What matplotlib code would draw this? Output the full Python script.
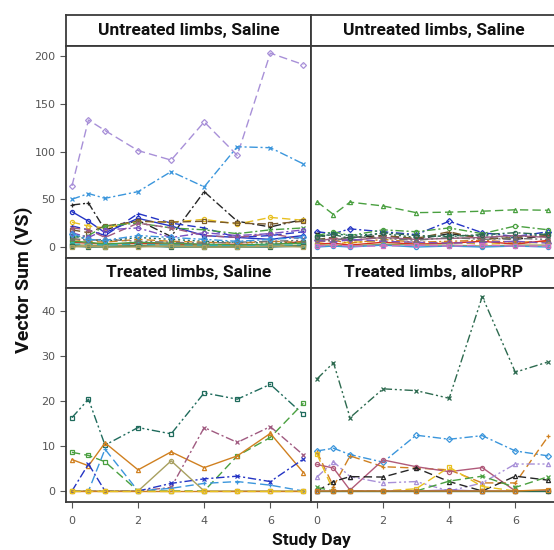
import matplotlib
matplotlib.use("Agg")
import matplotlib.pyplot as plt

# ---------------- data ----------------
days = [0, 0.5, 1, 2, 3, 4, 5, 6, 7]
x_ticks = [0, 2, 4, 6]
y_ticks_top = [0, 50, 100, 150, 200]
y_ticks_bottom = [0, 10, 20, 30, 40]
panel_titles = ["Untreated limbs, Saline", "Untreated limbs, Saline",
                "Treated limbs, Saline", "Treated limbs, alloPRP"]
x_label = "Study Day"
y_label = "Vector Sum (VS)"

# Untreated limbs, Saline (left)
ul_s01 = [64, 133, 122, 101, 91, 131, 96, 203, 191]
ul_s02 = [50, 56, 51, 58, 79, 63, 105, 104, 87]
ul_s03 = [44, 46, 18, 28, 11, 58, 27, 21, 29]
ul_s04 = [37, 27, 15, 30, 22, 12, 10, 8, 12]
ul_s05 = [22, 18, 12, 35, 25, 20, 10, 12, 16]
ul_s06 = [26, 22, 20, 27, 26, 29, 24, 31, 28]
ul_s07 = [18, 15, 22, 27, 26, 27, 25, 24, 27]
ul_s08 = [10, 12, 22, 25, 20, 18, 14, 18, 20]
ul_s09 = [20, 18, 10, 25, 20, 12, 10, 14, 8]
ul_s10 = [5, 4, 3, 4, 3, 2, 3, 2, 6]
ul_s11 = [2, 2, 1, 2, 2, 1, 1, 1, 2]
ul_s12 = [12, 8, 6, 10, 8, 6, 5, 4, 5]
ul_s13 = [8, 6, 5, 8, 6, 5, 4, 6, 5]
ul_s14 = [15, 10, 18, 20, 10, 15, 12, 14, 18]
ul_s15 = [6, 5, 3, 5, 4, 3, 2, 3, 4]
ul_s16 = [3, 3, 2, 3, 2, 2, 1, 2, 2]
ul_s17 = [9, 7, 8, 6, 5, 4, 5, 6, 7]
ul_s18 = [1, 0, 0, 1, 0, 0, 0, 0, 1]
ul_s19 = [14, 8, 7, 12, 10, 8, 6, 8, 10]
ul_s20 = [0, 1, 0, 0, 1, 0, 0, 1, 0]

# Untreated limbs, Saline (right)
ur_s01 = [47.5, 34, 47, 43, 36, 36.5, 37.5, 39, 38.5]
ur_s02 = [16, 14, 19, 16, 13, 27, 15, 11, 16]
ur_s03 = [14, 8, 10, 12, 8, 14, 10, 8, 12]
ur_s04 = [12, 16, 12, 18, 16, 20, 14, 22, 18]
ur_s05 = [10, 14, 12, 14, 10, 12, 12, 10, 14]
ur_s06 = [8, 10, 6, 12, 9, 16, 8, 10, 12]
ur_s07 = [6, 9, 7, 10, 8, 9, 10, 12, 10]
ur_s08 = [4, 3, 5, 6, 4, 5, 3, 4, 5]
ur_s09 = [5, 7, 4, 8, 5, 6, 7, 5, 6]
ur_s10 = [3, 4, 2, 5, 3, 4, 6, 3, 7]
ur_s11 = [7, 5, 8, 6, 5, 4, 5, 6, 4]
ur_s12 = [2, 2, 1, 3, 2, 2, 1, 2, 2]
ur_s13 = [0, 1, 0, 2, 0, 1, 0, 1, 0]
ur_s14 = [9, 6, 11, 9, 7, 10, 8, 9, 8]
ur_s15 = [1, 2, 1, 1, 2, 1, 2, 1, 1]
ur_s16 = [11, 13, 9, 15, 12, 11, 13, 15, 13]

# Treated limbs, Saline
ll_s01 = [16.3, 20.4, 10.2, 14.1, 12.7, 21.8, 20.4, 23.7, 17.0]
ll_s02 = [8.6, 7.9, 6.5, 0, 0, 0, 7.8, 11.9, 19.5]
ll_s03 = [7.0, 5.6, 10.7, 4.7, 8.7, 5.2, 7.8, 12.8, 4.1]
ll_s04 = [0, 0, 0, 0, 0.8, 14.1, 10.8, 14.3, 8.0]
ll_s05 = [0, 0, 9.3, 0, 0.6, 1.7, 2.1, 1.3, 0]
ll_s06 = [0, 6.0, 0, 0, 1.7, 2.7, 3.3, 2.1, 7.1]
ll_s07 = [0, 0, 0, 0, 6.7, 0, 0, 0, 0]
ll_s08 = [0, 0, 0, 0, 0, 0, 0, 0, 0]
ll_s09 = [0, 0, 0, 0, 0, 0, 0, 0, 0]

# Treated limbs, alloPRP
lr_s01 = [24.9, 28.5, 16.3, 22.7, 22.3, 20.6, 43.2, 26.4, 28.7]
lr_s02 = [8.9, 9.5, 8.1, 6.4, 12.4, 11.5, 12.3, 8.9, 7.8]
lr_s03 = [8.7, 1.0, 7.8, 5.4, 5.1, 4.7, 1.8, 1.8, 12.2]
lr_s04 = [5.9, 5.1, 0.2, 6.9, 5.4, 4.3, 5.2, 0, 0]
lr_s05 = [3.1, 6.5, 3.2, 1.8, 2.1, 0, 1.8, 6.0, 6.0]
lr_s06 = [0, 2.1, 3.2, 3.1, 5.1, 2.1, 0, 3.3, 2.4]
lr_s07 = [0.8, 0, 0, 0, 0, 2.2, 3.3, 0.8, 3.2]
lr_s08 = [8.2, 0, 0, 0, 0.5, 5.3, 1.0, 0, 0]
lr_s09 = [0, 0, 0, 0, 0, 0.2, 0, 0, 0]
lr_s10 = [0, 0, 0, 0, 0, 0, 0, 0, 0]
lr_s11 = [0, 0, 0, 0, 0, 0, 0, 0, 0.3]

# ---------------- styles ----------------
DASH = (0, (6, 3))
DASHDOT = (0, (6, 2, 1.5, 2))
DASHDOTDOT = (0, (6, 2, 1.5, 2, 1.5, 2))
DOT = (0, (1.5, 2))
SOLID = "-"

C = {
    "lilac": "#a890d8", "lblue": "#3b96dc", "black": "#262626", "dblue": "#2434c4",
    "green": "#4aa040", "yellow": "#e8c020", "orange": "#d08020", "teal": "#1f6b5c",
    "mauve": "#a05a80", "olive": "#9a9a55", "red": "#d83020", "brown": "#7a5a2b",
    "gray": "#707070", "pink": "#d070c0", "cyan": "#30b0b0", "purple": "#7a50c0",
    "dgreen": "#2d6a4f", "rose": "#b05a7a", "khaki": "#a8a060",
}

ul_series = [
    (ul_s01, C["lilac"], "D", DASH), (ul_s02, C["lblue"], "x", DASHDOT),
    (ul_s03, C["black"], "+", DASHDOT), (ul_s04, C["dblue"], "o", SOLID),
    (ul_s05, C["dblue"], "+", DASH), (ul_s06, C["yellow"], "o", DASH),
    (ul_s07, C["brown"], "s", DASH), (ul_s08, C["green"], "x", DASHDOT),
    (ul_s09, C["mauve"], "x", DASH), (ul_s10, C["red"], "^", SOLID),
    (ul_s11, C["olive"], "s", SOLID), (ul_s12, C["teal"], "s", DOT),
    (ul_s13, C["orange"], "^", DASH), (ul_s14, C["purple"], "o", DASHDOT),
    (ul_s15, C["green"], "s", SOLID), (ul_s16, C["cyan"], "o", DASH),
    (ul_s17, C["gray"], "^", DASHDOTDOT), (ul_s18, C["dgreen"], "s", SOLID),
    (ul_s19, C["lblue"], "D", DASHDOT), (ul_s20, C["khaki"], "s", SOLID),
]
ur_series = [
    (ur_s01, C["green"], "^", DASH), (ur_s02, C["dblue"], "D", DASHDOT),
    (ur_s03, C["black"], "x", DASH), (ur_s04, C["green"], "o", DASHDOT),
    (ur_s05, C["teal"], "s", DOT), (ur_s06, C["brown"], "+", DASH),
    (ur_s07, C["mauve"], "x", SOLID), (ur_s08, C["yellow"], "o", DASH),
    (ur_s09, C["orange"], "^", DASHDOT), (ur_s10, C["red"], "+", SOLID),
    (ur_s11, C["purple"], "D", DASH), (ur_s12, C["olive"], "s", SOLID),
    (ur_s13, C["lblue"], "o", SOLID), (ur_s14, C["gray"], "^", DASHDOTDOT),
    (ur_s15, C["pink"], "s", DASH), (ur_s16, C["dgreen"], "o", DASHDOT),
]
ll_series = [
    (ll_s01, C["teal"], "s", DASHDOTDOT), (ll_s02, C["green"], "s", DASH),
    (ll_s03, C["orange"], "^", SOLID), (ll_s04, C["mauve"], "x", DASHDOT),
    (ll_s05, C["lblue"], "+", DASH), (ll_s06, C["dblue"], "x", DASHDOT),
    (ll_s07, C["khaki"], "o", SOLID), (ll_s08, C["orange"], "s", SOLID),
    (ll_s09, C["yellow"], "s", DASH),
]
lr_series = [
    (lr_s01, C["dgreen"], "x", DASHDOTDOT), (lr_s02, C["lblue"], "D", DASHDOT),
    (lr_s03, C["orange"], "+", DASH), (lr_s04, C["rose"], "o", SOLID),
    (lr_s05, C["lilac"], "^", DASHDOTDOT), (lr_s06, C["black"], "^", DASH),
    (lr_s07, C["green"], "x", DASH), (lr_s08, C["yellow"], "s", DASH),
    (lr_s09, C["purple"], "o", SOLID), (lr_s10, C["dgreen"], "s", SOLID),
    (lr_s11, C["orange"], "s", SOLID),
]

# ---------------- figure ----------------
W, H = 554, 550
fig = plt.figure(figsize=(W / 100, H / 100), dpi=100)

def fx(px):
    return px / W

def fy(py):
    return 1 - py / H

SPINE = "#3a3a3a"
TICKC = "#555555"
XL = (-0.18, 7.23)
YL_TOP = (-11.5, 210.5)
YL_BOT = (-2.44, 45.1)

cols = [(66, 311), (311, 556)]
rows = [((15, 46), (46, 258)), ((258, 288), (288, 502))]
panel_data = [[ul_series, ur_series], [ll_series, lr_series]]

tick_font = dict(family=["Liberation Sans Narrow", "DejaVu Sans"], size=8, color="#555555")
title_font = dict(family=["Roboto", "DejaVu Sans"], weight="bold", size=12.5, color="#111111")

k = 0
for r, ((st0, st1), (p0, p1)) in enumerate(rows):
    for c, (x0, x1) in enumerate(cols):
        # strip
        sax = fig.add_axes([fx(x0), fy(st1), fx(x1 - x0), (st1 - st0) / H])
        sax.set_facecolor("white")
        sax.set_xticks([]); sax.set_yticks([])
        for s in sax.spines.values():
            s.set_color(SPINE); s.set_linewidth(1.3)
        sax.text(0.5, 0.5, panel_titles[k], transform=sax.transAxes,
                 ha="center", va="center", **title_font)
        k += 1
        # plot
        ax = fig.add_axes([fx(x0), fy(p1), fx(x1 - x0), (p1 - p0) / H])
        for vals, col, mk, ls in panel_data[r][c]:
            ax.plot(days, vals, color=col, linestyle=ls, linewidth=1.0,
                    marker=mk, markersize=3.0, markerfacecolor="none",
                    markeredgewidth=0.9, markeredgecolor=col, clip_on=True)
        ax.set_xlim(*XL)
        ax.set_ylim(*(YL_TOP if r == 0 else YL_BOT))
        for s in ax.spines.values():
            s.set_color(SPINE); s.set_linewidth(1.3)
        ax.tick_params(direction="out", length=4, width=0.8, color=TICKC)
        if c == 0:
            ax.set_yticks(y_ticks_top if r == 0 else y_ticks_bottom)
            ax.set_yticklabels([str(v) for v in (y_ticks_top if r == 0 else y_ticks_bottom)],
                               **tick_font)
        else:
            ax.set_yticks([])
        if r == 1:
            ax.set_xticks(x_ticks)
            ax.set_xticklabels([str(v) for v in x_ticks], **tick_font)
            ax.tick_params(axis="x", pad=6)
        else:
            ax.set_xticks([])

fig.text(fx(311), fy(540), x_label, ha="center", va="center",
         family=["Roboto", "DejaVu Sans"], weight="bold", size=12.5, color="#111111")
fig.text(fx(24), fy(280), y_label, ha="center", va="center", rotation=90,
         family=["Roboto", "DejaVu Sans"], weight="bold", size=14, color="#111111")

fig.savefig("out.png", dpi=100)
